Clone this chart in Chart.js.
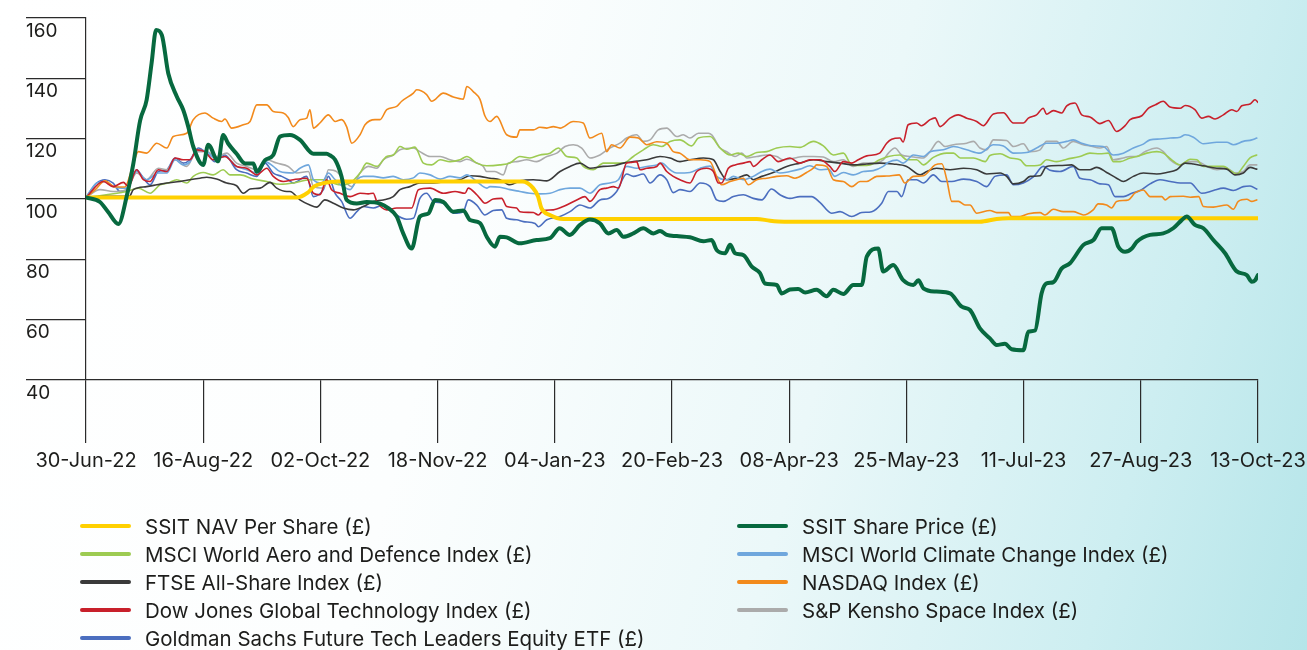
<!DOCTYPE html>
<html><head><meta charset="utf-8">
<script src="https://cdn.jsdelivr.net/npm/chart.js@4"></script>
<style>
html,body{margin:0;padding:0;}
body{width:1307px;height:650px;overflow:hidden;position:relative;
background:linear-gradient(105deg,#ffffff 0%,#fcfefe 35%,#ebf8f9 62%,#cdeef1 85%,#b5e5e9 100%);
font-family:Inter,"Noto Sans",sans-serif;}
#wrap{position:absolute;left:0;top:0;width:1307px;height:650px;}
.leg{position:absolute;display:flex;align-items:center;height:24px;font-size:20.5px;color:#1d1d1b;white-space:nowrap;}
.sw{width:51px;height:4px;border-radius:2px;margin-right:14px;flex:none;}
</style></head>
<body>
<div id="wrap"><canvas id="c"></canvas></div>
<div id="legend"></div>
<script>
const tickLabels = ['30-Jun-22','16-Aug-22','02-Oct-22','18-Nov-22','04-Jan-23','20-Feb-23','08-Apr-23','25-May-23','11-Jul-23','27-Aug-23','13-Oct-23'];
const yTicks = [40,60,80,100,120,140,160];

const navPerShare = [[0,100.5],[84.7,100.5],[88.8,102],[91.5,104.2],[95.5,105.3],[101,105.8],[175,105.8],[179.3,103.6],[181.3,100.8],[182.6,97],[186,94.7],[191.4,93.4],[269,93.4],[274.3,92.8],[280,92.5],[358.5,92.5],[365.2,93.4],[370,93.6],[470,93.6]];

const sharePrice = [[0,100.5],[5.6,99],[8.8,95.8],[13,91.7],[16.3,100.8],[19,111.8],[21.7,126],[24.3,132.8],[26.3,145],[28.1,156],[30.4,154.4],[33,141.6],[36.4,134],[39,129.5],[41,124],[43,117.4],[47,111.3],[49,118],[53,112.5],[55,121.2],[57,118.4],[60.4,115],[63.8,111.8],[67.1,111.8],[68.5,109],[71.8,112.9],[75.1,114.6],[77.8,120.7],[81.8,121.2],[85.8,119.6],[91.2,115],[96.5,115],[97.8,114.5],[99.9,113],[102.5,107.4],[104.5,99.7],[108.6,98.5],[112.6,99],[117.9,98.5],[121.2,97],[124.6,94.2],[127.2,88.6],[130.6,83.6],[133.9,94.2],[137.3,95.2],[140,99.7],[143.3,99],[147.3,95.8],[151.3,96.2],[154,93],[158,92],[160.7,87.5],[164,84.2],[166,87.5],[168.7,87.3],[174,85.3],[180.7,86.4],[186,87],[190,90.3],[194,88.1],[198.1,91.4],[202.1,93.2],[206.1,91.9],[209.5,88.6],[212.8,89.7],[215.5,87.5],[219.5,88.6],[223.5,90.3],[227.5,88.6],[230.2,89.4],[232.9,88.1],[236.9,87.7],[242.2,87.3],[247.6,86],[250.9,86.4],[252.9,83.1],[256.3,82],[258.3,84.8],[260.3,82],[263.6,81.4],[267,77.6],[270.3,75.4],[272.3,72],[277,71.5],[279,68.7],[282.3,70],[285.6,70.2],[288.4,69],[293,69.9],[297,67.8],[299.7,69.9],[303.7,68.5],[307.7,71.5],[311.1,71.5],[313.1,80.9],[317.7,83.6],[319.7,76],[323.7,78.1],[327.7,73.1],[331.8,71.5],[333.8,73.1],[335.8,70.4],[341.1,69.3],[346.5,68.7],[351.2,64.3],[354.5,63.2],[358.5,57.1],[362.5,53.8],[365.2,51.6],[368.5,52],[371.2,50.2],[375.9,49.9],[377.9,56],[380.6,56.4],[383.2,68.7],[385.2,72],[387.9,72.4],[391.3,77],[394.6,78.7],[400,84.8],[404,86.4],[407.3,90.3],[411.3,90.3],[414,84.2],[416.7,82.5],[419.4,83.6],[421.4,85.8],[426.7,88.1],[432,88.6],[436,90.3],[439.4,93],[441.4,94.2],[444.7,91.4],[448.1,90.3],[452.1,86.4],[456.8,82],[461.5,76],[465.5,74.8],[467.5,72.6],[468.8,73],[470,74.8]];

const aeroDefence = [[0,100.5],[16.3,102.5],[21,103.6],[25.7,101.9],[29.7,104.7],[33,105.3],[36.4,106.4],[40.4,105.3],[43,107.5],[47,108.8],[51,108],[55,109.7],[57.7,108],[61.8,108],[67.1,106.6],[72.5,105.8],[77.8,104.9],[83.1,105.3],[89.8,106.4],[95.2,106.4],[101.9,104.7],[105.9,105.3],[109.9,108.6],[112.6,111.9],[116.6,110.8],[120.6,114.1],[123.3,114.6],[125.9,117.4],[128.6,116.5],[131.9,117.2],[135.3,111.9],[138.6,111.3],[142,113],[146,112.4],[150,113],[152.7,114.1],[156.7,111.9],[160.7,111],[166,111.3],[170,111.9],[174,114.1],[178,113.6],[182,114.6],[186.1,115.2],[189.4,116.9],[192.8,114.1],[196.8,113.6],[199.4,110.8],[203.4,109.7],[207.5,111.9],[211.5,111.9],[215.5,111.9],[219.5,114.1],[223.5,116.3],[227.5,118],[230.9,117.4],[234.2,119.1],[238.2,119.6],[242.9,117.6],[245.6,120.2],[250.3,120.7],[254.3,116.9],[258.3,114.6],[261.6,115.2],[265,114.1],[269,115.4],[273,115.7],[277,116.9],[282.3,117.4],[286.3,117.1],[291.7,119.1],[295.7,117.6],[299.7,114.6],[303.7,115.2],[307.1,111.3],[311.1,111.1],[314.4,111.3],[318.3,113],[321.8,114.1],[326.4,114.6],[329.1,113],[333.1,113],[335.8,111.3],[339.8,113.8],[345.2,115.2],[347.9,115.2],[350.6,113.6],[355.9,113.6],[360.6,112.4],[362.5,114.4],[366.6,115],[370.6,113.6],[374.6,113],[377.2,111],[382.6,111.3],[385.2,113],[389.3,112.4],[393.3,113.2],[398.6,114.1],[402.6,115.2],[406.6,115],[410,115.2],[412,112.4],[414.7,112.4],[418.7,113.6],[421.4,114.1],[425.4,115.2],[429.4,115.7],[432,115.2],[435.4,113],[438.8,111.3],[442.8,113.2],[445.5,113],[448.1,110.8],[452.1,110.8],[456.1,110.8],[459.5,109.1],[461.5,108.3],[464.1,110.8],[466.8,113.6],[469.5,114.6]];

const climateChange = [[0,100.5],[4.3,105.3],[7.6,105.8],[10.9,104.1],[16.3,103.6],[20.3,109.1],[24.3,106.4],[29,108.6],[32.4,108.6],[35.7,113],[39,111.3],[41.7,112.4],[44.4,116.3],[48.4,115.7],[51.7,113.6],[55.7,114.1],[60.4,110.8],[64.4,109.7],[68.5,108.6],[71.8,112.4],[75.1,110.8],[77.8,109.1],[83.1,108.6],[85.8,110.2],[89.2,111.3],[91.2,106.4],[94.5,105.3],[97.2,108.6],[99.9,106.4],[103.2,104.1],[105.9,103.1],[108.6,106.4],[111.2,107.5],[115.2,107.5],[119.2,107],[123.2,107.5],[127.2,106.4],[131.3,107],[133.9,108.6],[138,108],[142,106.6],[146,107.5],[150,107],[152.7,108],[156.7,105.8],[160.7,103.6],[162,104.1],[166,103.9],[170,103.1],[174,102.5],[178,101.9],[182,101.7],[186.1,101.9],[190.1,103.1],[194.1,103.6],[198.1,103.6],[202.1,101.9],[206.1,104.7],[210.1,105.3],[213.5,106.4],[216.8,110.8],[220.8,110.2],[224.9,110.8],[228.9,111.3],[230.9,111.9],[234.2,109.7],[236.9,108.6],[242.2,108.8],[246.3,110.2],[250.3,110.9],[252.9,107.5],[256.9,106.4],[259.6,107.5],[263.6,106.4],[267.6,107.5],[271,109.1],[274.3,109.9],[278.3,108.6],[282.3,109.1],[286.3,109.9],[290.3,111],[294.3,109.7],[297.8,109.9],[300.3,107.5],[303.7,108.8],[307.7,108],[311.7,109.1],[315.7,109.4],[319.7,110.8],[321.8,112.2],[325.2,112.9],[327.7,111.9],[331.8,114.6],[335.8,114.1],[338.5,115.7],[343.8,116.3],[347.9,117.4],[353.2,116.3],[358.5,115.2],[363.9,118],[367.9,117.6],[371.9,115.2],[377.2,115.4],[381.2,116.9],[385.2,118.5],[389.3,118.5],[393.3,119.1],[395.9,119.6],[399.3,118.5],[403.9,117.6],[407.9,117.4],[412,114.6],[416,115.2],[420,116.9],[424,118.2],[426.7,119.6],[430.7,119.9],[434.8,120.2],[438.8,120.5],[440.8,121.3],[444.1,120.5],[448.1,118.3],[453.5,118.8],[457.5,118.8],[460.1,118],[464.1,119.1],[467.5,119.6],[469.5,120.2]];

const ftseAllShare = [[0,100.5],[8.3,100.9],[17.4,100.9],[19,103.1],[24.3,104.1],[28.4,104.7],[32.4,105.3],[37.7,105.8],[41.7,106.4],[45.7,106.9],[48.4,107.2],[52.4,106.6],[56.4,105.3],[60.4,104.4],[63.1,101.9],[65.8,103.3],[69.8,103.6],[73.8,105.5],[76.5,103.6],[80.5,102.5],[81.8,102.5],[85.8,99.7],[89.8,98],[92.5,97.3],[95.8,99.7],[99.2,98.6],[103.2,97],[107.2,96.4],[111.2,97.5],[115.2,99.2],[119.2,99.7],[123.2,100.8],[125.9,103.1],[129.9,104.1],[133.9,105.3],[139.3,105.3],[144.6,105.8],[150,106.4],[154,107.7],[158,107.5],[162,106.9],[166,106.4],[170,104.7],[174,106],[179.4,106.4],[184.8,106],[190.1,109.1],[194.1,110.8],[198.1,111.9],[202.1,110.2],[207.5,110.8],[211.5,111],[215.5,111.9],[219.5,112.4],[224.9,113],[230.2,114.1],[234.2,113.6],[238.2,112.4],[242.2,113],[247.6,113.6],[251.6,113],[254.3,109.1],[256.9,106.4],[260.9,106.9],[265,108],[267.6,106.4],[271,107.5],[275.6,108.8],[281,110.8],[286.3,111.9],[291.7,113],[297,112.4],[302.4,111.9],[307.7,111.3],[313.1,111.6],[318.3,111.9],[323.7,111.6],[329.1,110.8],[334.5,108],[337.2,109.1],[341.1,110.2],[346.5,109.7],[351.9,110.2],[357.2,109.7],[361.2,108.3],[366.6,108.6],[369.2,107.5],[371.9,105],[375.9,105.8],[378.6,107.5],[382.6,107.7],[385.2,110.8],[390.6,111.1],[395.3,111.3],[398.6,109.7],[402.6,109.7],[405.3,110.5],[409.3,108.8],[413.3,106.9],[416,105.8],[420,107.5],[424,108.6],[429.4,108.3],[433.4,108.8],[437.4,109.7],[440.8,111.9],[444.1,111.6],[448.1,111],[453.5,110.2],[457.5,109.9],[460.8,108],[464.1,108.6],[466.8,110.5],[469.5,109.9]];

const nasdaq = [[0,100.5],[3.6,103],[7.6,106],[11.6,104],[15.6,104],[18.4,110],[21,115.7],[24.3,115.2],[28.4,118.5],[32.4,116.9],[35,120.7],[40.4,121.8],[43,126.3],[47.7,128.5],[51,126.8],[54.4,125.7],[55.7,126.5],[58.4,123.5],[63.1,124.6],[65.8,125.7],[68.5,131.2],[72.5,131.2],[75.1,129],[79.1,128.5],[81.1,127],[83.1,124],[85.8,126.3],[88.5,126.8],[89.8,129.6],[91.2,123.5],[93.8,125.2],[97.2,127.9],[99.9,125.7],[102.5,126.3],[104.5,124],[106.6,118.5],[109.9,121.3],[111.9,124.6],[115.9,126.3],[117.9,126.3],[120.6,129.6],[124.6,130.7],[126.6,132.4],[131.3,135.1],[132.6,136.2],[136.6,134.6],[138.6,132.4],[143.3,135.1],[147.3,133.8],[151.3,133.1],[152.7,137.3],[155.3,135.6],[158,133],[160,127.5],[162,125.7],[164.7,127.4],[168.7,121.3],[172.7,120.5],[174,122.9],[179.4,122.9],[182,123.8],[184.8,123.5],[187.4,124],[190.1,123.5],[195.4,125.7],[199.4,125.2],[202.1,120.2],[206.8,121.8],[208.8,115.7],[210.8,118],[214.1,116.9],[218.2,120.5],[221.5,120.2],[224.9,118],[228.9,119],[232.9,118.5],[235.5,115.7],[238.2,115.2],[242.2,113],[246.3,113],[250.3,112.4],[252.9,107.5],[254.9,104.7],[258.3,105.8],[260.9,106.4],[263.6,106.9],[265.6,104.7],[269,106.4],[273,106.9],[277,107.5],[281,107.7],[284.3,106.9],[289,108.8],[291.7,110.2],[293,111.3],[297,110.8],[299.7,106.4],[303.7,105.8],[307.1,104.1],[310.4,105.8],[313.1,105.8],[317.1,107.5],[321.1,107.6],[326.1,108],[328.4,105.3],[331.8,107.5],[335.8,107.7],[340.5,111.3],[343.2,111.7],[345.2,106.4],[347.2,99.2],[349.9,99.2],[352.5,98],[354.5,98],[357.2,95.3],[362.5,96.2],[365.2,95.5],[369.9,95.5],[371.2,94.2],[374.6,94.2],[377.9,95.1],[382.6,95.5],[384.6,94.7],[387.9,96.6],[391.9,95.8],[395.9,95.8],[398.6,95.1],[400,94.7],[403.9,96.4],[405.9,98.4],[409.3,98],[411.3,97],[413.3,99.2],[418,99.7],[420.7,102],[424,103],[426.7,100.8],[431.4,100.8],[432.8,99.7],[434.8,100.8],[440.1,100.9],[442.8,100.6],[446.2,100.8],[448.1,97.5],[452.1,97.3],[457.5,98],[460.1,96.6],[462.1,99.2],[465.5,99.9],[467.5,99.2],[469.5,99.7]];

const dowJonesTech = [[0,100.5],[6.9,105.8],[10.9,104.1],[15,105.5],[17,104.1],[20.3,109.7],[23,106.4],[25.7,105.8],[29,109.7],[32.4,109.1],[35.7,113.6],[39,113],[41.7,113],[44.4,116.3],[47.7,115.7],[51,113],[55.7,114.1],[60.4,110.8],[64.4,110.2],[68.5,108],[72.5,110.2],[75.1,107.5],[79.1,105.8],[83.1,106.4],[88.5,106.9],[91.2,101.9],[93.8,101.4],[96.5,106.4],[98.5,103.1],[101.9,101.9],[105.9,100.8],[109.9,101.9],[113.2,101.7],[115.2,101.9],[116.6,99.2],[120.6,96.4],[124.6,97],[130.6,97],[133.3,103.1],[138,103.6],[143.3,101.9],[148,102.5],[152,101.9],[153.3,103.6],[156.7,101.4],[158,100.2],[160,98.6],[163.3,100],[166.7,100.2],[168.7,97.5],[172.7,97],[174,95.8],[179.4,95.5],[181.4,94.7],[183.4,96.2],[187.4,96.4],[191.4,97.5],[196.8,99.7],[200.1,100.8],[202.1,99.2],[206.1,103.1],[208.8,103.6],[211.5,104.1],[213.5,103.6],[216.8,111.9],[218.8,112.1],[220.8,112.4],[222.2,109.7],[224.9,110.2],[228.9,110.8],[230.2,111.9],[232.9,109.1],[235.5,107.5],[238.2,106.4],[242.2,105.3],[244.9,109.1],[248.9,110.2],[251.6,109.1],[253.6,105.3],[254.9,105.3],[257.6,110.2],[260.3,111.3],[263.6,111.9],[266.3,112.4],[267.6,110.8],[271,113],[274.3,114.6],[277.6,112.4],[282.3,113.6],[286.3,111.9],[290.3,113],[294.3,113],[298.3,110.8],[300.3,109.1],[303.7,112.4],[307.1,111.9],[309.7,113],[313.1,114.3],[318.3,115.2],[321.1,118.5],[323.1,119.8],[326.4,120.2],[327.7,118.9],[329.7,124.6],[333.1,125.2],[335.1,124.3],[338.5,126.3],[340.5,126.9],[342.5,124],[346.5,126.8],[349.8,127.9],[353.2,126.8],[357.2,125.7],[359.8,124.3],[363.9,128.2],[367.9,128.6],[371.9,125.2],[375.9,125.2],[377.9,126.8],[381.2,127.9],[383.9,130.1],[385.2,128.1],[387.9,129.3],[391.3,128.5],[393.3,130.9],[396.6,131.8],[399.3,127.9],[402.6,127.2],[406.6,125],[410,126],[413.3,122.4],[416.7,124.3],[418.7,126.3],[423.4,127.6],[426.1,130.1],[428.8,131.2],[432,132.4],[434.7,130.5],[438.8,130.1],[440.8,131],[444.7,129.6],[447.4,126.8],[450.1,127.4],[452.8,126.5],[456.1,127.9],[459.5,129.6],[461.5,129],[463.5,130.9],[466.8,131.5],[468.8,132.9],[470,132]];

const spaceIndex = [[0,100.5],[5.6,103.1],[10.9,102.5],[16.3,103.1],[20.3,108.6],[24.3,106.4],[29,110.2],[32.4,109.7],[35.7,113],[40.4,110.8],[44.4,115.7],[48.4,115.7],[52.4,114.1],[56.4,115.2],[60.4,111.9],[64.4,110.8],[68.5,109.7],[72.5,113],[76.5,111.9],[81.1,110.8],[84.5,108.6],[89.2,109.1],[91.2,104.1],[95.2,103.6],[97.2,109.7],[100.5,109.1],[103.9,105.8],[106.6,104.1],[109.9,108.6],[113.2,110.8],[116.6,110.2],[119.2,113],[123.2,114.6],[125.9,116.3],[131.3,116.9],[133.9,115.7],[138,114.1],[142,114.1],[146,113],[150,112.4],[152.7,113.2],[156.7,111.9],[159.3,110.8],[160.7,109.1],[164,109.1],[167.3,108],[169.3,111.9],[172.7,112.4],[176.7,113],[180.7,112.4],[184.8,114.1],[188.8,115.2],[192.1,117.4],[195.4,118],[198.8,116.9],[202.1,113.6],[206.1,114.6],[210.1,116.9],[214.1,118.5],[216.8,120.2],[220.8,121.3],[223.5,119.1],[226.2,119.6],[229.5,122.9],[232.9,123.5],[236.9,120.7],[239.5,121.3],[242.2,120.2],[245.6,121.8],[249.6,121.8],[251,121.2],[254.3,116.9],[256.9,115.7],[260.3,114.1],[263,115.2],[265,113.6],[269,114.1],[273,114.6],[277,114.1],[279.6,113],[284.3,113.6],[287.7,114.1],[291.7,114.1],[295.7,113.9],[299.7,112.4],[303.7,113],[307.7,110.8],[311.7,111.9],[315.7,111.9],[319.7,113],[321.8,115.2],[324.4,116.9],[327.1,114.6],[330.4,114.1],[335.8,113.6],[338.5,115.7],[341.8,119.1],[344.5,117.4],[347.9,118],[353.2,118.5],[355.9,119.1],[358.5,116.9],[361.2,116.3],[363.9,119.6],[369.2,119.4],[371.9,117.4],[375.9,118.3],[378.6,115.7],[382.6,116.3],[385.2,119.1],[389.3,119.1],[391.9,116.9],[395.9,119.1],[399.9,118],[402.6,117.6],[406.6,116.9],[409.3,117.4],[412,113],[416,113.6],[418.7,114.1],[421.4,114.1],[424.7,115.7],[429.4,116.9],[432,115.7],[434.8,113],[438.8,111.3],[441.5,112.4],[445.5,112.4],[449.5,110.8],[453.5,109.7],[457.5,110.2],[460.8,108.6],[464.1,109.1],[466.8,111.3],[469.5,111.3]];

const goldmanTech = [[0,100.5],[4.3,105.3],[7.6,106.4],[10.9,105.3],[13.6,102.5],[16.3,103.1],[20.3,109.7],[23,106.9],[25.7,104.7],[29,109.1],[32.4,109.7],[35.7,113.6],[39,111.9],[41.7,113],[45,116.9],[48.4,115.2],[51.7,112.4],[55.7,114.6],[60.4,109.7],[64.4,108.6],[68.5,107.5],[71.8,111.9],[75.1,108.6],[78.5,107.5],[81.1,106.4],[83.1,105.3],[88.5,107.5],[91.2,100.8],[95.2,103.1],[97.2,107.5],[99.9,101.9],[102.5,99.2],[105.9,93.6],[108.6,95.8],[111.2,97.5],[115.2,97],[119.2,98],[123.2,95.3],[128.6,93.3],[131.3,93.6],[133.9,100.2],[136.6,101.9],[139.3,99.2],[143.3,98.6],[147.3,95.3],[151.3,95.8],[153.3,99.7],[156.7,98],[160,94.7],[163.3,96.2],[166.7,96.4],[168.7,93.6],[172.7,93.1],[175.4,92.5],[180.1,91.9],[181.4,90.8],[184.8,93.1],[190.1,94.2],[194.1,95.8],[198.1,98],[202.1,97],[206.1,99.7],[209.5,100.2],[212.8,102.5],[216.8,108.3],[219.5,107.5],[223.5,108.3],[226.2,105.3],[230.2,108],[232.9,106.4],[235.5,102.1],[238.2,103.1],[242.2,102.5],[246.3,105.3],[250.3,104.1],[252.9,99.7],[255.6,99.2],[259.6,100.8],[263.6,101.4],[267.6,100.2],[271,99.7],[274.9,103.3],[278.3,101.4],[282.3,100.2],[286.3,100.8],[291,100.8],[294.3,98.9],[299,95.3],[302.4,95.8],[307.1,94.2],[311.1,95.5],[315.1,95.8],[319.1,98.6],[321.8,102.5],[325.2,102.5],[327.1,100.8],[329.7,106.4],[333.1,106.4],[335.8,105.3],[339.8,108],[343.2,105.8],[347.2,105.8],[351.9,106.6],[357.2,105.8],[361.2,104.1],[364.5,107.5],[369.2,108],[371.9,104.7],[375.9,105.3],[379.9,107.3],[383.9,110.8],[386.6,109.5],[390.6,109.1],[395.9,110.8],[398.6,106.9],[402.6,106.4],[406.6,105],[410,104.7],[412.7,100.8],[416,100.8],[419.4,101.9],[422.7,102.8],[426.7,105],[430.7,106.4],[434.8,105.8],[438.8,105.3],[442.8,105.3],[447.4,101.9],[452.1,102.8],[456.1,103.6],[460.1,102.8],[464.1,104.1],[466.8,104.3],[469.5,103.3]];

const seriesNames = ['SSIT NAV Per Share (£)','SSIT Share Price (£)','MSCI World Aero and Defence Index (£)','MSCI World Climate Change Index (£)','FTSE All-Share Index  (£)','NASDAQ Index (£)','Dow Jones Global Technology Index (£)','S&P Kensho Space Index (£)','Goldman Sachs Future Tech Leaders Equity ETF (£)'];
const seriesData = [navPerShare, sharePrice, aeroDefence, climateChange, ftseAllShare, nasdaq, dowJonesTech, spaceIndex, goldmanTech];
const seriesColors = ['#FFD000','#07693F','#9DCB52','#6FA7DD','#3A3A3A','#F28A1C','#C8202B','#ABABAB','#4B6EBF'];
const seriesWidths = [4,4,1.6,1.6,1.6,1.6,1.6,1.6,1.6];
const seriesOrder = [1,0,6,4,5,3,2,7,8];

const datasets = seriesData.map((arr,i)=>({
  label: seriesNames[i],
  data: arr.map(p=>({x:p[0],y:p[1]})),
  borderColor: seriesColors[i],
  backgroundColor: seriesColors[i],
  borderWidth: seriesWidths[i],
  pointRadius: 0,
  cubicInterpolationMode: 'monotone',
  order: seriesOrder[i],
  borderCapStyle: 'round',
  borderJoinStyle: 'round'
}));

const axisColor = '#2b2b2b';
new Chart(document.getElementById('c'), {
  type: 'line',
  data: { datasets },
  options: {
    responsive: true,
    maintainAspectRatio: false,
    animation: false,
    layout: { padding: { left: 26, right: 49, top: 18, bottom: 170 } },
    plugins: { legend: { display: false }, tooltip: { enabled: false } },
    scales: {
      x: {
        type: 'linear', min: 0, max: 470,
        afterFit: s => { s.height = 100; s.paddingLeft = 0; s.paddingRight = 0; },
        afterBuildTicks: s => { s.ticks = tickLabels.map((t,i)=>({value:i*47})); },
        grid: { drawOnChartArea: false, drawTicks: true, tickLength: 63, color: axisColor, lineWidth: 1.2 },
        border: { display: true, color: axisColor, width: 1.2 },
        ticks: { autoSkip: false, maxRotation: 0, padding: 6, color: '#1d1d1b',
          font: { family: 'Inter', size: 20 },
          callback: (v) => tickLabels[Math.round(v/47)] }
      },
      y: {
        min: 40, max: 160,
        afterFit: s => { s.width = 60; s.paddingTop = 0; s.paddingBottom = 0; },
        afterBuildTicks: s => { s.ticks = yTicks.map(v=>({value:v})); },
        grid: { drawOnChartArea: false, drawTicks: true, tickLength: 60, color: axisColor, lineWidth: 1.2 },
        border: { display: true, color: axisColor, width: 1.2 },
        ticks: { crossAlign: 'far', labelOffset: 13, padding: 0, color: '#1d1d1b',
          font: { family: 'Inter', size: 19 } }
      }
    }
  }
});

// legend (HTML text)
const legendLeft = [0,2,4,6,8];
const legendRight = [1,3,5,7];
const leg = document.getElementById('legend');
function addItem(idx, left, row){
  const d = document.createElement('div');
  d.className = 'leg';
  d.style.left = left + 'px';
  d.style.top = (526 + row*28.1 - 12) + 'px';
  const sw = document.createElement('span');
  sw.className = 'sw';
  sw.style.background = seriesColors[idx];
  const t = document.createElement('span');
  t.textContent = seriesNames[idx];
  d.appendChild(sw); d.appendChild(t);
  leg.appendChild(d);
}
legendLeft.forEach((idx,r)=>addItem(idx,80,r));
legendRight.forEach((idx,r)=>addItem(idx,737,r));
</script>
</body></html>
